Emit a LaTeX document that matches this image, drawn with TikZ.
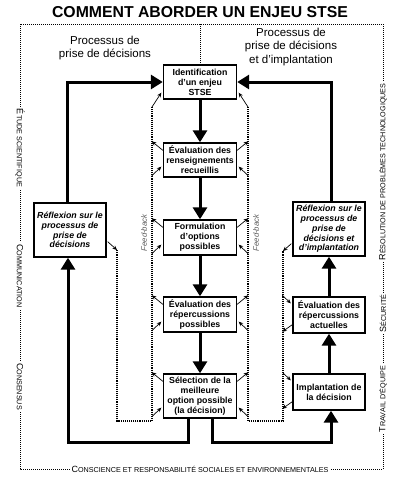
\documentclass[tikz,border=0pt]{standalone}
\usepackage{fontspec}
\setmainfont{Liberation Sans}
\usetikzlibrary{arrows.meta}
\newcommand\mysc[2]{{\fontsize{9}{9}\selectfont #1}{\fontsize{7.2}{7.2}\selectfont #2}}
\begin{document}
\begin{tikzpicture}[x=1pt,y=-1pt,
  box/.style={draw, line width=1.4pt, fill=white, align=center, font=\fontsize{8.8}{10}\selectfont\bfseries, inner sep=1pt, minimum width=73pt},
  ibox/.style={box, font=\fontsize{8.8}{9.8}\selectfont\bfseries\itshape, minimum width=72pt},
  big/.style={line width=3pt, -{Triangle[length=12pt,width=14pt]}},
  fb/.style={line width=0.7pt, -{Stealth[length=4.5pt,width=4pt]}},
  dots/.style={line width=1.1pt, dash pattern=on 1.1pt off 1pt},
  frame/.style={line width=1pt, dash pattern=on 1pt off 1pt},
  flabel/.style={fill=white, inner sep=2pt},
  fbtext/.style={font=\fontsize{7.8}{8}\selectfont\itshape, text=black!65, rotate=90},
  proc/.style={align=center, font=\fontsize{11.5}{13.5}\selectfont}
]
\useasboundingbox (0,0) rectangle (400,482);

% title and headings
\node[font=\fontsize{15.8}{16}\selectfont\bfseries] (title) at (200,12) {COMMENT ABORDER UN ENJEU STSE};
\node[proc] (pl) at (105,48) {Processus de\\prise de décisions};
\node[proc] (pr) at (291,47) {Processus de\\prise de décisions\\et d’implantation};

% frame
\coordinate (f1) at (20,24);
\coordinate (f2) at (383,469);
\coordinate (ftop) at (200,24);
\draw[frame] (f1) rectangle (f2);

% boxes
\node[box, minimum height=34pt] (id) at (200,82) {Identification\\d’un enjeu\\STSE};
\node[box, minimum height=34pt] (ev1) at (200,160) {Évaluation des\\renseignements\\recueillis};
\node[box, minimum height=35pt] (form) at (200,237.5) {Formulation\\d’options\\possibles};
\node[box, minimum height=35pt] (ev2) at (200,314.5) {Évaluation des\\répercussions\\possibles};
\node[box, minimum height=44pt] (sel) at (200,396) {Sélection de la\\meilleure\\option possible\\(la décision)};
\node[ibox, minimum height=54pt] (lrefl) at (70,230) {Réflexion sur le\\processus de\\prise de\\décisions};
\node[ibox, minimum height=54pt] (rrefl) at (329,229) {Réflexion sur le\\processus de\\prise de\\décisions et\\d’implantation};
\node[box, minimum width=72pt, minimum height=36pt] (evact) at (329,315) {Évaluation des\\répercussions\\actuelles};
\node[box, minimum width=72pt, minimum height=36pt] (impl) at (329,392) {Implantation de\\la décision};

\draw[frame] (ftop) -- (id.north);

% thick arrows
\draw[big] (id.south) -- (ev1.north);
\draw[big] (ev1.south) -- (form.north);
\draw[big] (form.south) -- (ev2.north);
\draw[big] (ev2.south) -- (sel.north);
\draw[big] ([xshift=-12pt]sel.south) -- ++(0,24) -| ([xshift=-2pt]lrefl.south);
\draw[big] ([xshift=-3pt]lrefl.north) |- (id.west);
\draw[big] ([xshift=12pt]sel.south) -- ++(0,24) -| ([xshift=2pt]impl.south);
\draw[big] (impl.north) -- (evact.south);
\draw[big] (evact.north) -- (rrefl.south);
\draw[big] ([xshift=2pt]rrefl.north) |- (id.east);

% feedback loops
\coordinate (lt) at (152,107);
\coordinate (lb) at (152,421);
\coordinate (lc) at (117,421);
\coordinate (lr) at (117,250);
\coordinate (rt) at (248,107);
\coordinate (rb) at (248,421);
\coordinate (rc) at (283,421);
\coordinate (rr) at (283,251);
\draw[dots] (lt) -- (lb) -- (lc) -- (lr);
\draw[dots] (rt) -- (rb) -- (rc) -- (rr);
\draw[fb] (lt) -- ([xshift=-1.5pt,yshift=7pt]id.south west);
\draw[fb] (rt) -- ([xshift=1.5pt,yshift=7pt]id.south east);
\foreach \b in {ev1,form,ev2,sel} {
  \draw[fb] ([yshift=-8pt]\b.north west) -- ([xshift=-11pt,yshift=1pt]\b.north west);
  \draw[fb] ([xshift=-11pt,yshift=2pt]\b.south west) -- ([xshift=-1.5pt,yshift=11pt]\b.south west);
  \draw[fb] ([yshift=-8pt]\b.north east) -- ([xshift=11pt,yshift=1pt]\b.north east);
  \draw[fb] ([xshift=11pt,yshift=2pt]\b.south east) -- ([xshift=1.5pt,yshift=11pt]\b.south east);
}
\foreach \b in {evact,impl} {
  \draw[fb] ([xshift=-10pt,yshift=1pt]\b.north west) -- ([xshift=-1.5pt,yshift=-7pt]\b.north west);
  \draw[fb] ([yshift=9pt]\b.south west) -- ([xshift=-10pt,yshift=2pt]\b.south west);
}
\draw[fb] ([xshift=1pt,yshift=16pt]lrefl.south east) -- (lr);
\draw[fb] ([xshift=-1pt,yshift=13pt]rrefl.south west) -- (rr);
\node[fbtext] (fbl) at (144,233) {Feed-back};
\node[fbtext] (fbr) at (256,233) {Feed-back};

% frame labels
\node[flabel, rotate=-90] (l1) at (20,148) {\mysc{É}{TUDE SCIENTIFIQUE}};
\node[flabel, rotate=-90] (l2) at (20,276) {\mysc{C}{OMMUNICATION}};
\node[flabel, rotate=-90] (l3) at (20,386.5) {\mysc{C}{ONSENSUS}};
\node[flabel, rotate=90] (r1) at (383,172) {\mysc{R}{ÉSOLUTION DE PROBLÈMES TECHNOLOGIQUES}};
\node[flabel, rotate=90] (r2) at (383,313.5) {\mysc{S}{ÉCURITÉ}};
\node[flabel, rotate=90] (r3) at (383,399) {\mysc{T}{RAVAIL D’ÉQUIPE}};
\node[flabel] (b1) at (200,469) {\mysc{C}{ONSCIENCE ET RESPONSABILITÉ SOCIALES ET ENVIRONNEMENTALES}};
\end{tikzpicture}
\end{document}
